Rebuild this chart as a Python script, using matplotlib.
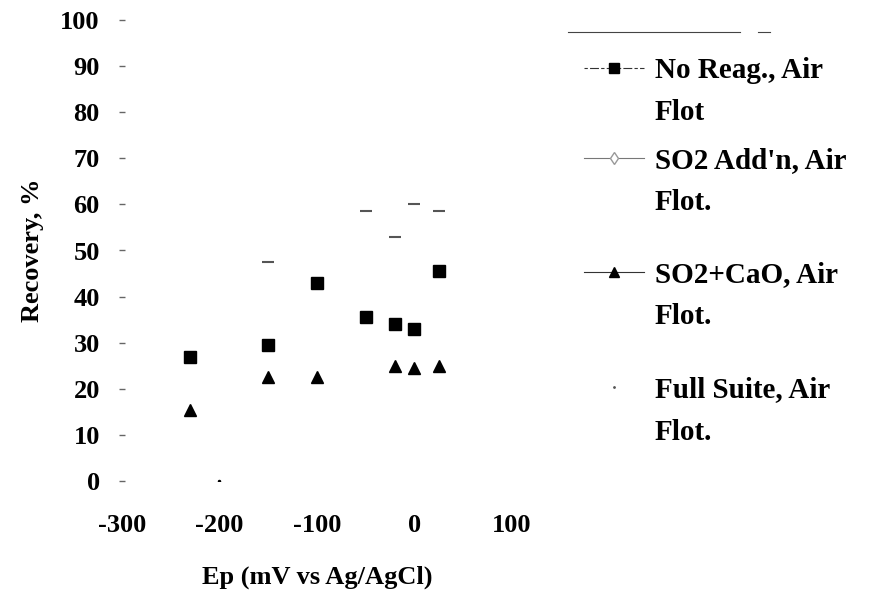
import matplotlib
matplotlib.use("Agg")
import matplotlib.pyplot as plt
from matplotlib.lines import Line2D

plt.rcParams['font.family'] = ['Liberation Serif', 'DejaVu Serif']
plt.rcParams['font.weight'] = 'bold'
plt.rcParams['axes.unicode_minus'] = False

# recovery vs pulp potential, four flotation conditions
ep_noreag = [-230, -150, -100, -50, -20, 0, 25]
rec_noreag = [27, 29.5, 43, 35.5, 34, 33, 45.5]

ep_so2 = [-150, -50, -20, 0, 25]
rec_so2 = [47.5, 58.5, 53, 60, 58.5]

ep_cao = [-230, -150, -100, -20, 0, 25]
rec_cao = [15.5, 22.5, 22.5, 25, 24.5, 25]

ep_full = [-200]
rec_full = [0]

labels = ["No Reag., Air\nFlot", "SO2 Add'n, Air\nFlot.",
          "SO2+CaO, Air\nFlot.", "Full Suite, Air\nFlot."]
xticks = [-300, -200, -100, 0, 100]
yticks = list(range(0, 101, 10))

W, H = 878, 595
fig = plt.figure(figsize=(W / 100, H / 100), dpi=100)
ax = fig.add_axes([122 / W, 1 - 481 / H, 390 / W, 461 / H])

ax.plot(ep_noreag, rec_noreag, ls='none', marker='s', ms=9, color='black')
ax.plot(ep_so2, rec_so2, ls='none', marker='_', ms=8, mew=1.5, color='#555555')
ax.plot(ep_cao, rec_cao, ls='none', marker='^', ms=9, color='black')
ax.plot(ep_full, rec_full, ls='none', marker='.', ms=3, color='black')

ax.set_xlim(-300, 100)
ax.set_ylim(0, 100)
ax.set_xticks(xticks)
ax.set_yticks(yticks)
for s in ax.spines.values():
    s.set_visible(False)
ax.tick_params(axis='x', length=0, pad=24, labelsize=19)
ax.tick_params(axis='y', length=4, width=1, color='#666666', direction='inout',
               pad=14, labelsize=19)
ax.set_xlabel('Ep (mV vs Ag/AgCl)', fontsize=19, fontweight='bold', labelpad=20)
ax.set_ylabel('Recovery, %', fontsize=19, fontweight='bold', labelpad=12)

# legend drawn by hand: handle on the first line of each two-line label
def fx(px):
    return px / W

def fy(py):
    return 1 - py / H

fig.add_artist(Line2D([fx(568), fx(740)], [fy(32), fy(32)], lw=0.8, color='#444444'))
fig.add_artist(Line2D([fx(758), fx(770)], [fy(32), fy(32)], lw=0.8, color='#444444'))

rows = [68, 158, 272, 387]
styles = [
    dict(ls=(0, (3, 2, 8, 2)), lw=0.8, color='#333333', marker='s', ms=7, mfc='black', mec='black'),
    dict(ls='-', lw=0.8, color='#777777', marker='d', ms=6, mfc='white', mec='#999999'),
    dict(ls='-', lw=0.8, color='#333333', marker='^', ms=7, mfc='black', mec='black'),
    dict(ls='none', marker='.', ms=2, color='#555555'),
]
for y, lab, st in zip(rows, labels, styles):
    fig.add_artist(Line2D([fx(584), fx(614), fx(644)], [fy(y)] * 3,
                          markevery=[1], **st))
    for i, part in enumerate(lab.split('\n')):
        fig.text(fx(655), fy(y + 42 * i), part, fontsize=21, fontweight='bold',
                 va='center_baseline', ha='left')

fig.savefig('out.png', dpi=100)
